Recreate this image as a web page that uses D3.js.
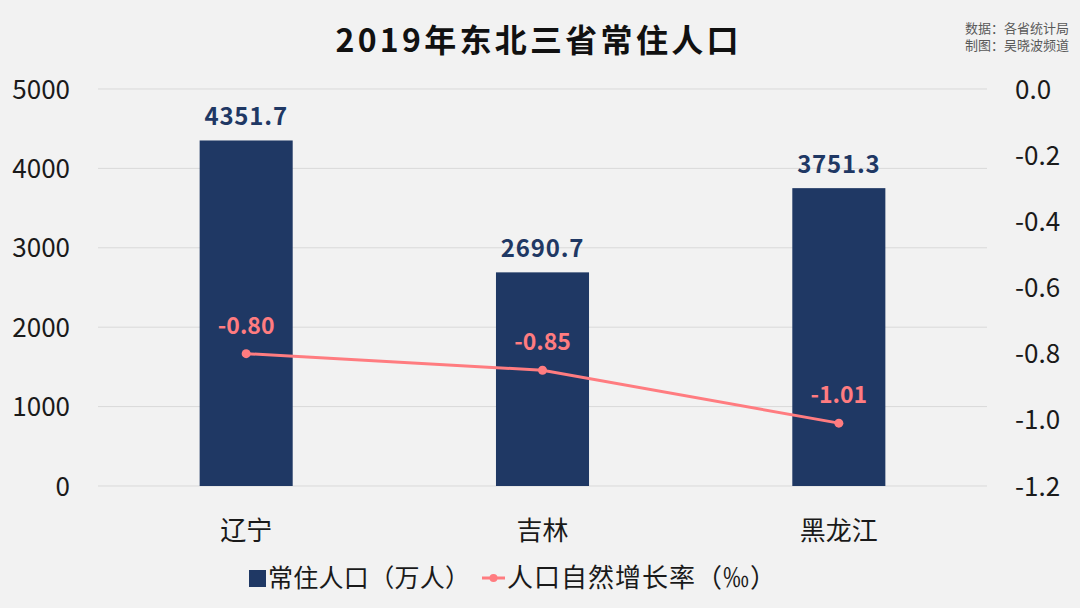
<!DOCTYPE html>
<html><head><meta charset="utf-8">
<script src="https://cdn.jsdelivr.net/npm/d3@7"></script>
<style>
html,body{margin:0;padding:0;background:#f2f2f2;}
text{font-family:"Noto Sans CJK SC","Noto Sans",sans-serif;}
</style></head><body>
<svg id="c" width="1080" height="608"></svg>
<script>
const categories = ["辽宁", "吉林", "黑龙江"];
const population = [4351.7, 2690.7, 3751.3];
const growthRate = [-0.80, -0.85, -1.01];
const leftTicks = [0, 1000, 2000, 3000, 4000, 5000];
const rightTicks = [0, -0.2, -0.4, -0.6, -0.8, -1.0, -1.2];
const title = "2019年东北三省常住人口";
const sourceLines = ["数据：各省统计局", "制图：吴晓波频道"];
const legendLabels = ["常住人口（万人）", "人口自然增长率（‰）"];

(function(){
const svg = d3.select("#c");
const W = 1080, H = 608;
const pLeft = 98, pRight = 987, pTop = 89, pBottom = 486;
const barColor = "#1f3864", lineColor = "#ff7c80";
const font = '"Noto Sans CJK SC", sans-serif';

svg.append("rect").attr("width", W).attr("height", H).attr("fill", "#f2f2f2");

const x = d3.scaleBand().domain(categories).range([pLeft, pRight]).paddingInner(0.686).paddingOuter(0.343);
const yL = d3.scaleLinear().domain([0, 5000]).range([pBottom, pTop]);
const yR = d3.scaleLinear().domain([-1.2, 0]).range([pBottom, pTop]);

svg.append("g").selectAll("line").data(leftTicks).join("line")
  .attr("x1", pLeft).attr("x2", pRight)
  .attr("y1", d => yL(d)).attr("y2", d => yL(d))
  .attr("stroke", "#d9d9d9").attr("stroke-width", 1);

const gL = svg.append("g").attr("transform", `translate(${pLeft - 28},0)`)
  .call(d3.axisLeft(yL).tickValues(leftTicks).tickSize(0).tickPadding(0).tickFormat(d3.format("d")));
gL.select(".domain").remove();
gL.selectAll("text").attr("font-size", 26).attr("fill", "#1a1a1a")
  .style("font-family", font).attr("dy", "0.35em");

const gR = svg.append("g").attr("transform", `translate(${pRight + 28},0)`)
  .call(d3.axisRight(yR).tickValues(rightTicks).tickSize(0).tickPadding(0).tickFormat(d3.format(".1f")));
gR.select(".domain").remove();
gR.selectAll("text").attr("font-size", 26).attr("fill", "#1a1a1a")
  .style("font-family", font).attr("dy", "0.35em")
  .text(d => d3.format(".1f")(d).replace("−", "-"));

svg.append("g").selectAll("rect").data(categories).join("rect")
  .attr("x", d => x(d)).attr("width", x.bandwidth())
  .attr("y", (d, i) => yL(population[i])).attr("height", (d, i) => yL(0) - yL(population[i]))
  .attr("fill", barColor);

svg.append("g").selectAll("text").data(categories).join("text")
  .attr("x", d => x(d) + x.bandwidth() / 2)
  .attr("y", (d, i) => yL(population[i]) - 15)
  .attr("text-anchor", "middle").attr("font-size", 24).attr("font-weight", "bold")
  .attr("letter-spacing", 0.8)
  .attr("fill", barColor).text((d, i) => population[i].toFixed(1));

svg.append("g").selectAll("text").data(categories).join("text")
  .attr("x", d => x(d) + x.bandwidth() / 2).attr("y", 540)
  .attr("text-anchor", "middle").attr("font-size", 26).attr("fill", "#1a1a1a").text(d => d);

const line = d3.line().x((d, i) => x(categories[i]) + x.bandwidth() / 2).y(d => yR(d));
svg.append("path").datum(growthRate).attr("d", line)
  .attr("fill", "none").attr("stroke", lineColor).attr("stroke-width", 3);
svg.append("g").selectAll("circle").data(growthRate).join("circle")
  .attr("cx", (d, i) => x(categories[i]) + x.bandwidth() / 2).attr("cy", d => yR(d))
  .attr("r", 4.5).attr("fill", lineColor);
svg.append("g").selectAll("text").data(growthRate).join("text")
  .attr("x", (d, i) => x(categories[i]) + x.bandwidth() / 2).attr("y", d => yR(d) - 20)
  .attr("text-anchor", "middle").attr("font-size", 23).attr("font-weight", "bold")
  .attr("fill", lineColor).text(d => d.toFixed(2));

svg.append("text").attr("x", 537).attr("y", 52).attr("text-anchor", "middle")
  .attr("font-size", 32).attr("font-weight", "bold").attr("fill", "#111")
  .attr("textLength", 403).attr("lengthAdjust", "spacing").text(title);

svg.append("g").selectAll("text").data(sourceLines).join("text")
  .attr("x", 1069).attr("y", (d, i) => 33 + i * 17).attr("text-anchor", "end")
  .attr("font-size", 13).attr("fill", "#595959").text(d => d);

const lg = svg.append("g");
lg.append("rect").attr("x", 249).attr("y", 570).attr("width", 17).attr("height", 17).attr("fill", barColor);
lg.append("text").attr("x", 268).attr("y", 587).attr("font-size", 25).attr("fill", "#1a1a1a")
  .attr("textLength", 202).attr("lengthAdjust", "spacing").text(legendLabels[0]);
lg.append("line").attr("x1", 482).attr("x2", 505).attr("y1", 578).attr("y2", 578)
  .attr("stroke", lineColor).attr("stroke-width", 3);
lg.append("circle").attr("cx", 493.5).attr("cy", 578).attr("r", 4).attr("fill", lineColor);
lg.append("text").attr("x", 507).attr("y", 587).attr("font-size", 26).attr("fill", "#1a1a1a")
  .attr("letter-spacing", 1).text(legendLabels[1]);
})();
</script>
</body></html>
